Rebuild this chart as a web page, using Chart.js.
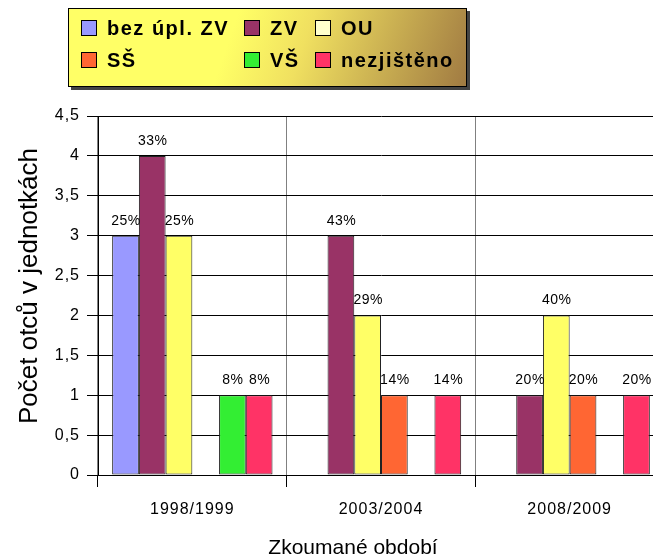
<!DOCTYPE html>
<html>
<head>
<meta charset="utf-8">
<script src="https://cdn.jsdelivr.net/npm/chart.js@4"></script>
<style>
  html, body { margin: 0; padding: 0; overflow: hidden; background: #fff; }
  #wrap { width: 664px; height: 559px; }
</style>
</head>
<body>
<div id="wrap"><canvas id="chart" width="664" height="559"></canvas></div>
<script>
// ------------------------------------------------------------------
//  Data
// ------------------------------------------------------------------
const periods = ['1998/1999', '2003/2004', '2008/2009'];
const seriesNames = ['bez úpl. ZV', 'ZV', 'OU', 'SŠ', 'VŠ', 'nezjištěno'];

// number of fathers per period (null = no bar)
const bezUplZV   = [3, null, null];
const zv         = [4, 3, 1];
const ou         = [3, 2, 2];
const ss         = [null, 1, 1];
const vs         = [1, null, null];
const nezjisteno = [1, 1, 1];

// percent labels printed above the bars
const bezUplZVPct   = ['25%', '', ''];
const zvPct         = ['33%', '43%', '20%'];
const ouPct         = ['25%', '29%', '40%'];
const ssPct         = ['', '14%', '20%'];
const vsPct         = ['8%', '', ''];
const nezjistenoPct = ['8%', '14%', '20%'];

const yTicks = [0, 0.5, 1, 1.5, 2, 2.5, 3, 3.5, 4, 4.5];

const barColors = ['#9999FF', '#993366', '#FFFF66', '#FF6633', '#33EE33', '#FF3366'];
const swatchColors = ['#9999FF', '#993366', '#FFFFCC', '#FF6633', '#33EE33', '#FF3366'];

const allValues = [bezUplZV, zv, ou, ss, vs, nezjisteno];
const allPct = [bezUplZVPct, zvPct, ouPct, ssPct, vsPct, nezjistenoPct];

const FONT = '"Liberation Sans", Arial, sans-serif';

// ------------------------------------------------------------------
//  Plugins: percent labels, legend box, axis titles
// ------------------------------------------------------------------
const pctLabels = {
    id: 'pctLabels',
    afterDatasetsDraw(chart) {
        const ctx = chart.ctx;
        ctx.save();
        ctx.letterSpacing = '0.5px';
        ctx.font = '14px ' + FONT;
        ctx.fillStyle = '#000';
        ctx.textAlign = 'center';
        ctx.textBaseline = 'alphabetic';
        chart.data.datasets.forEach((ds, i) => {
            chart.getDatasetMeta(i).data.forEach((bar, j) => {
                const txt = allPct[i][j];
                if (ds.data[j] == null || !txt) return;
                ctx.fillText(txt, bar.x + 0.5, bar.y - 11);
            });
        });
        ctx.restore();
    }
};

const boxLegend = {
    id: 'boxLegend',
    afterDraw(chart) {
        const ctx = chart.ctx;
        const x = 68, y = 8, w = 399, h = 79;
        ctx.save();
        ctx.letterSpacing = '0px';
        // shadow
        ctx.fillStyle = '#444';
        ctx.fillRect(x + 3, y + 3, w, h);
        // gradient body
        const g = ctx.createLinearGradient(240, y, x + w, y + h);
        g.addColorStop(0, '#FFFF66');
        g.addColorStop(0.3, '#F0E060');
        g.addColorStop(1, '#A07A42');
        ctx.fillStyle = g;
        ctx.fillRect(x, y, w, h);
        ctx.strokeStyle = '#000';
        ctx.lineWidth = 1;
        ctx.strokeRect(x + 0.5, y + 0.5, w - 1, h - 1);

        const colX = [81, 244, 315];
        const rowY = [20, 52];
        ctx.font = 'bold 20px ' + FONT;
        ctx.letterSpacing = '1.5px';
        ctx.textBaseline = 'middle';
        seriesNames.forEach((name, i) => {
            const sx = colX[i % 3], sy = rowY[Math.floor(i / 3)];
            ctx.fillStyle = swatchColors[i];
            ctx.fillRect(sx, sy, 16, 16);
            ctx.strokeStyle = '#000';
            ctx.strokeRect(sx + 0.5, sy + 0.5, 15, 15);
            ctx.fillStyle = '#000';
            ctx.fillText(name, sx + 26, sy + 9);
        });
        ctx.restore();
    }
};

const axisTitles = {
    id: 'axisTitles',
    beforeDraw(chart) {
        // small tick texts in the reference are spaced out a bit
        chart.ctx.letterSpacing = '1px';
    },
    afterDraw(chart) {
        const ctx = chart.ctx;
        ctx.save();
        ctx.letterSpacing = '0px';
        ctx.fillStyle = '#000';
        ctx.textAlign = 'center';
        ctx.textBaseline = 'alphabetic';
        ctx.font = '21px ' + FONT;
        ctx.fillText('Zkoumané období', 353, 554);
        ctx.translate(37, 286);
        ctx.rotate(-Math.PI / 2);
        ctx.font = '26px ' + FONT;
        ctx.fillText('Počet otců v jednotkách', 0, 0);
        ctx.restore();
    }
};

// ------------------------------------------------------------------
//  Chart
// ------------------------------------------------------------------
new Chart(document.getElementById('chart'), {
    type: 'bar',
    data: {
        labels: periods,
        datasets: seriesNames.map((name, i) => ({
            label: name,
            data: allValues[i],
            backgroundColor: barColors[i],
            borderColor: '#222',
            borderWidth: 1,
            borderSkipped: false,
            categoryPercentage: 0.85,
            barPercentage: 1
        }))
    },
    options: {
        responsive: false,
        animation: false,
        layout: { padding: { top: 116, left: 0, right: 0, bottom: 0 } },
        plugins: { legend: { display: false }, tooltip: { enabled: false } },
        scales: {
            x: {
                afterFit: s => { s.height = 84; },
                grid: { offset: true, color: '#808080', tickColor: '#000', tickLength: 12, lineWidth: 1 },
                border: { color: '#000' },
                ticks: { color: '#000', font: { family: FONT, size: 16 }, padding: 13 }
            },
            y: {
                min: 0,
                max: 4.5,
                afterFit: s => { s.width = 98; },
                afterBuildTicks: s => { s.ticks = yTicks.map(v => ({ value: v })); },
                grid: { color: '#000', tickColor: '#000', tickLength: 11, lineWidth: 1 },
                border: { color: '#000' },
                ticks: {
                    color: '#000',
                    font: { family: FONT, size: 16 },
                    padding: 7,
                    callback: v => String(v).replace('.', ',')
                }
            }
        }
    },
    plugins: [pctLabels, boxLegend, axisTitles]
});
</script>
</body>
</html>
